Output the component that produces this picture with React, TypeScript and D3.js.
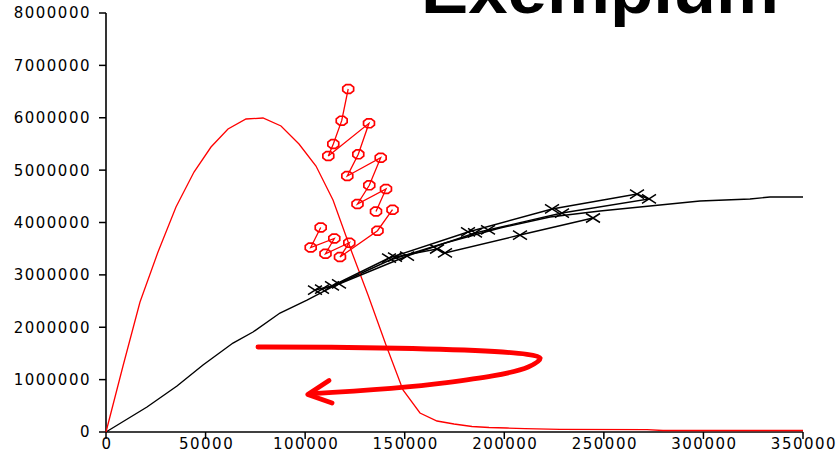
import React from "react";
import * as d3 from "d3";

// axis ticks
const xTicks = [0, 50000, 100000, 150000, 200000, 250000, 300000, 350000];
const yTicks = [0, 1000000, 2000000, 3000000, 4000000, 5000000, 6000000, 7000000, 8000000];

// red hump curve
const redX = [0, 8537, 17073, 26112, 35150, 44190, 52726, 61262, 70300, 78837, 87876, 96915, 105450, 113990, 123030, 131570, 140600, 149140, 157670, 166210, 174750, 183790, 192330, 201360, 210400, 227970, 271660, 279700, 350000];
const redY = [0, 1260000, 2482000, 3437000, 4296000, 4964000, 5441000, 5785000, 5976000, 5995000, 5842000, 5499000, 5079000, 4430000, 3475000, 2616000, 1661000, 802000, 363000, 210000, 153000, 105000, 86000, 76000, 63000, 52000, 44000, 29000, 29000];

// black smooth curve
const blackX = [0, 20590, 35650, 48710, 63770, 73820, 87370, 100930, 117500, 142610, 170230, 197850, 222950, 248060, 273170, 298280, 323380, 333420, 350000];
const blackY = [0, 477000, 878000, 1279000, 1699000, 1909000, 2272000, 2520000, 2845000, 3284000, 3609000, 3895000, 4105000, 4220000, 4315000, 4411000, 4449000, 4487000, 4487000];

// black series with x markers
const crossAX = [104950, 113490, 142110, 181780, 223960, 266640, 272670, 228980, 191820, 185290, 151150, 117000, 108460];
const crossAY = [2711000, 2788000, 3322000, 3819000, 4258000, 4544000, 4449000, 4181000, 3857000, 3800000, 3360000, 2826000, 2730000];
const crossBX = [145120, 166210, 170230, 207890, 244550];
const crossBY = [3341000, 3494000, 3418000, 3761000, 4086000];

// red series with hexagon markers
const hexAX = [121620, 118360, 114140, 111630, 132060, 126690, 121170, 137940, 132210, 126290, 140600, 135580];
const hexAY = [6549000, 5944000, 5499000, 5270000, 5894000, 5302000, 4888000, 5237000, 4710000, 4353000, 4640000, 4210000];
const hexBX = [143870, 136330, 117500, 122170, 110220, 114640, 102790, 107810];
const hexBY = [4244000, 3843000, 3341000, 3614000, 3404000, 3695000, 3523000, 3905000];

// hand-drawn arrow annotation (data space)
const arrowX = [76300, 218000, 212000, 170000, 102300];
const arrowY = [1623000, 1413000, 1241000, 937000, 727000];
const headX = [112000, 101300, 113500];
const headY = [983000, 716000, 553000];

const W = 838;
const H = 461;

const zip = (xs: number[], ys: number[]) => xs.map((x, i) => [x, ys[i]] as [number, number]);

export default function App() {
  const x = d3.scaleLinear().domain([0, 350000]).range([106, 803]);
  const y = d3.scaleLinear().domain([0, 8000000]).range([432, 13]);
  const line = d3.line<[number, number]>().x((d) => x(d[0])).y((d) => y(d[1]));
  const arrowLine = d3
    .line<[number, number]>()
    .x((d) => x(d[0]))
    .y((d) => y(d[1]))
    .curve(d3.curveCatmullRom.alpha(0.5));

  const octagon = d3.range(8).map((i) => {
    const a = (Math.PI / 4) * i + Math.PI / 8;
    return `${(5.9 * Math.cos(a)).toFixed(2)},${(4.8 * Math.sin(a)).toFixed(2)}`;
  }).join(" ");

  const hexSeries = [zip(hexAX, hexAY), zip(hexBX, hexBY)];
  const crossSeries = [zip(crossAX, crossAY), zip(crossBX, crossBY)];
  const tickFont = { fontFamily: "DejaVu Sans, sans-serif", fontSize: 15, letterSpacing: 1.5 };

  return (
    <svg width={W} height={H} style={{ position: "absolute", left: 0, top: 0, background: "#fff" }}>
      <text x={421} y={13} fontFamily="Liberation Sans, Arial, sans-serif" fontWeight="bold" fontSize={66} textLength={358} lengthAdjust="spacingAndGlyphs">
        Exemplum
      </text>

      {/* axes */}
      <line x1={x(0)} x2={x(0)} y1={y(8000000)} y2={y(0)} stroke="#000" strokeWidth={1.6} />
      <line x1={x(0)} x2={x(350000)} y1={y(0)} y2={y(0)} stroke="#000" strokeWidth={1.6} />
      {yTicks.map((t) => (
        <g key={"y" + t}>
          <line x1={x(0) - 7} x2={x(0)} y1={y(t)} y2={y(t)} stroke="#000" strokeWidth={1.5} />
          <text x={91} y={y(t)} dy="0.36em" textAnchor="end" {...tickFont}>
            {t}
          </text>
        </g>
      ))}
      {xTicks.map((t) => (
        <g key={"x" + t}>
          <line x1={x(t)} x2={x(t)} y1={y(0)} y2={y(0) + 7} stroke="#000" strokeWidth={1.5} />
          <text x={x(t) + 1} y={449} textAnchor="middle" {...tickFont}>
            {t}
          </text>
        </g>
      ))}

      {/* curves */}
      <path d={line(zip(blackX, blackY)) || ""} fill="none" stroke="#000" strokeWidth={1.4} />
      <path d={line(zip(redX, redY)) || ""} fill="none" stroke="#ff0000" strokeWidth={1.3} />

      {crossSeries.map((s, i) => (
        <g key={"c" + i}>
          <path d={line(s) || ""} fill="none" stroke="#000" strokeWidth={1.4} />
          {s.map((d, j) => (
            <path
              key={j}
              d={`M${x(d[0]) - 7},${y(d[1]) - 4.5}L${x(d[0]) + 7},${y(d[1]) + 4.5}M${x(d[0]) - 7},${y(d[1]) + 4.5}L${x(d[0]) + 7},${y(d[1]) - 4.5}`}
              stroke="#000"
              strokeWidth={1.5}
            />
          ))}
        </g>
      ))}

      {hexSeries.map((s, i) => (
        <g key={"h" + i}>
          <path d={line(s) || ""} fill="none" stroke="#ff0000" strokeWidth={1.3} />
          {s.map((d, j) => (
            <polygon
              key={j}
              points={octagon}
              transform={`translate(${x(d[0])},${y(d[1])})`}
              fill="none"
              stroke="#ff0000"
              strokeWidth={1.7}
            />
          ))}
        </g>
      ))}

      {/* arrow */}
      <path d={arrowLine(zip(arrowX, arrowY)) || ""} fill="none" stroke="#ff0000" strokeWidth={4.8} strokeLinecap="round" strokeLinejoin="round" />
      <path d={line(zip(headX, headY)) || ""} fill="none" stroke="#ff0000" strokeWidth={4.8} strokeLinecap="round" strokeLinejoin="round" />
    </svg>
  );
}
